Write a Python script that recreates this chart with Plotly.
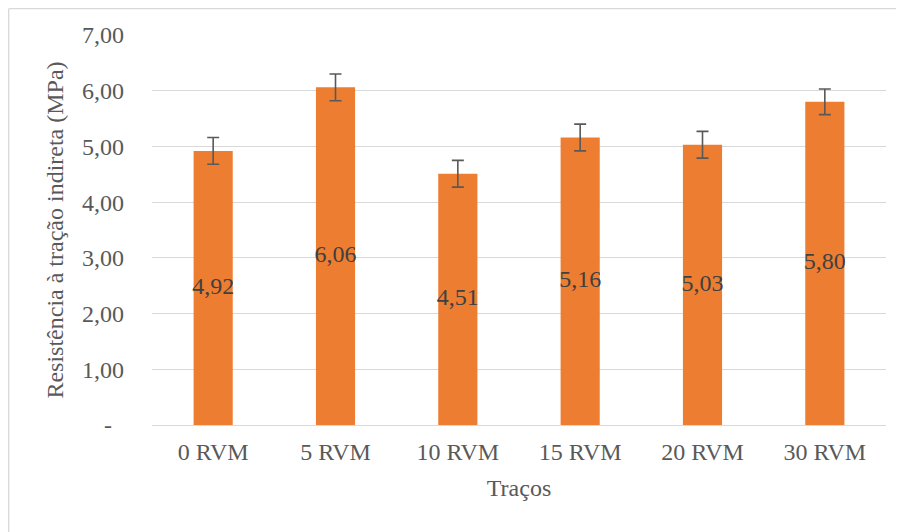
import plotly.graph_objects as go

categories = ["0 RVM", "5 RVM", "10 RVM", "15 RVM", "20 RVM", "30 RVM"]
values = [4.92, 6.06, 4.51, 5.16, 5.03, 5.80]
errors = [0.24, 0.24, 0.24, 0.24, 0.24, 0.23]
y_tickvals = [0, 1, 2, 3, 4, 5, 6, 7]
y_ticktext = ["-\u00a0\u00a0", "1,00", "2,00", "3,00", "4,00", "5,00", "6,00", "7,00"]
labels = [f"{v:.2f}".replace(".", ",") for v in values]
label_pos = [v / 2 for v in values]

FONT = "Liberation Serif"
# page has 8px body margin: figure occupies page pixels 8..904, 8..532
W, H = 896, 524
L, T = 144, 27
pw, ph = 734, 390
R, B = W - L - pw, H - T - ph

fig = go.Figure()
fig.add_trace(go.Bar(
    x=categories, y=values, width=0.32,
    marker=dict(color="#ED7D31", line=dict(width=0)),
    error_y=dict(type="data", array=errors, visible=True,
                 color="#595959", thickness=1.6, width=6),
    hoverinfo="skip", showlegend=False,
))
fig.add_trace(go.Scatter(
    x=categories, y=label_pos, mode="text", text=labels,
    textposition="middle center",
    textfont=dict(family=FONT, size=24, color="#404040"),
    hoverinfo="skip", showlegend=False,
))

x_left = (0.7 - L) / pw
x_right = (W + 30 - L) / pw
y_top = (H - B - 0.7) / ph
y_bot = -(B + 30) / ph
border = dict(color="#D9D9D9", width=1.3)

fig.update_layout(
    width=W, height=H,
    margin=dict(l=L, r=R, t=T, b=B),
    paper_bgcolor="white", plot_bgcolor="white",
    font=dict(family=FONT, size=24, color="#595959"),
    xaxis=dict(
        showgrid=False, showline=True, linecolor="#D9D9D9", linewidth=1.3,
        ticks="", ticklabelstandoff=5,
        tickfont=dict(family=FONT, size=24, color="#595959"),
        title=dict(text="Traços", standoff=15,
                   font=dict(family=FONT, size=24, color="#595959")),
    ),
    yaxis=dict(
        range=[0, 7], tickvals=y_tickvals, ticktext=y_ticktext,
        showgrid=True, gridcolor="#D9D9D9", gridwidth=1.3,
        zeroline=False, showline=False, ticks="", ticklabelstandoff=27,
        tickfont=dict(family=FONT, size=24, color="#595959"),
        title=dict(text="Resistência à tração indireta (MPa)", standoff=11,
                   font=dict(family=FONT, size=24, color="#595959")),
    ),
    shapes=[
        dict(type="line", xref="paper", yref="paper", layer="below",
             x0=x_left, x1=x_right, y0=y_top, y1=y_top, line=border),
        dict(type="line", xref="paper", yref="paper", layer="below",
             x0=x_left, x1=x_left, y0=y_top, y1=y_bot, line=border),
    ],
)

fig.write_html("out.html")
